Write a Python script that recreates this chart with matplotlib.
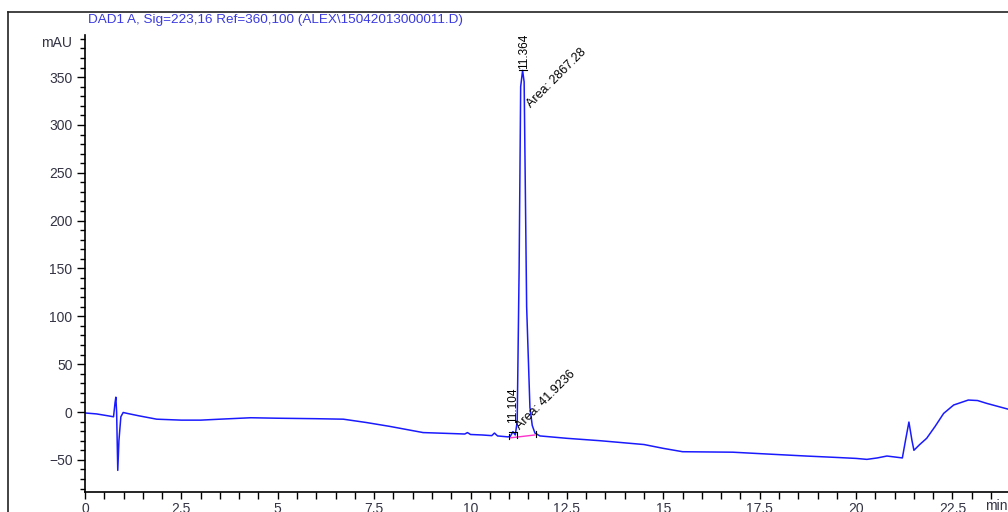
import numpy as np
import matplotlib.pyplot as plt
from matplotlib.lines import Line2D

plt.rcParams['font.family'] = ['Liberation Sans', 'DejaVu Sans']

# chromatogram trace (min, mAU)
t = [0.00, 0.30, 0.60, 0.74, 0.78, 0.80, 0.82, 0.85, 0.88, 0.93, 0.99, 1.10,
     1.40, 1.86, 2.50, 3.00, 3.50, 4.30, 5.00, 6.00, 6.70, 7.30, 7.90, 8.77,
     9.50, 9.85, 9.92, 10.00, 10.30, 10.55, 10.62, 10.70, 10.97, 11.03, 11.10,
     11.16, 11.21, 11.26, 11.30, 11.35, 11.39, 11.455, 11.54, 11.60, 11.67,
     11.80, 12.50, 13.36, 14.50, 15.00, 15.50, 16.80, 17.50, 18.70, 19.50,
     20.00, 20.28, 20.55, 20.80, 21.10, 21.20, 21.28, 21.37, 21.45, 21.50,
     21.65, 21.83, 22.05, 22.27, 22.53, 22.91, 23.15, 23.39, 23.94]
mau = [-1, -2, -4, -5, 10, 15.5, 0, -61, -30, -5, -0.5, -1.5,
       -4, -7.5, -8.5, -8.5, -7.5, -6, -6.5, -7, -7.5, -11, -15, -21.5,
       -22.5, -23, -21.5, -23.5, -24, -24.7, -22, -25, -26, -25.5, -20.5,
       -24, -10, 150, 340, 357, 345, 110, 5, -14, -22,
       -25, -27.5, -30, -34, -38, -41.5, -42, -43.5, -46, -47.5,
       -48.5, -49.5, -48, -46, -47.5, -48, -30, -10.5, -30, -40,
       -34, -27.5, -15, -1.5, 7.3, 12.5, 12, 9, 3]

# integrated peaks
peak_rt = [11.104, 11.364]
peak_h = [-20.5, 357]
peak_area = ['41.9236', '2867.28']
base_t = [11.03, 11.67]
base_y = [-27, -24]
bounds_t = [11.0, 11.21, 11.70]
bounds_y = [-25.5, -24.5, -23]

title = r'DAD1 A, Sig=223,16 Ref=360,100 (ALEX\15042013000011.D)'
lab_col = '#333344'

fig = plt.figure(figsize=(10.08, 5.12), dpi=100)
ax = fig.add_axes([85 / 1008, 1 - 492 / 512, 1 - 85 / 1008, (492 - 35) / 512])

ax.plot(t, mau, color='#1a1aff', lw=1.1)
ax.plot(base_t, base_y, color='#ff33cc', lw=1.0)
for bt, by in zip(bounds_t, bounds_y):
    ax.plot([bt, bt], [by - 3, by + 3], color='black', lw=0.8)
for rt, h in zip(peak_rt, peak_h):
    ax.plot([rt - 0.1, rt + 0.1], [h, h], color='black', lw=0.8)

ax.text(11.39, 358, '11.364', rotation=90, ha='center', va='bottom', fontsize=8.5)
ax.text(11.09, -12, '11.104', rotation=90, ha='center', va='bottom', fontsize=8.5)
ax.text(11.62, 316, 'Area: ' + peak_area[1], rotation=45, rotation_mode='anchor',
        ha='left', va='bottom', fontsize=9)
ax.text(11.33, -21, 'Area: ' + peak_area[0], rotation=45, rotation_mode='anchor',
        ha='left', va='bottom', fontsize=9)

ax.set_xlim(0, 23.94)
ax.set_ylim(-83.6, 394)
ax.set_xticks(np.arange(0, 23, 2.5))
ax.set_xticklabels(['0', '2.5', '5', '7.5', '10', '12.5', '15', '17.5', '20', '22.5'])
ax.set_xticks(np.arange(0, 24, 0.5), minor=True)
ax.set_yticks(np.arange(-50, 351, 50))
ax.set_yticks(np.arange(-80, 391, 10), minor=True)
ax.tick_params(axis='x', which='both', length=5, width=1, labelsize=10,
               labelcolor=lab_col, pad=2)
ax.tick_params(axis='y', which='major', length=6, width=1, labelsize=10,
               labelcolor=lab_col, pad=3)
ax.tick_params(axis='y', which='minor', length=3.5, width=1)
for s in ['top', 'right']:
    ax.spines[s].set_visible(False)
for s in ['left', 'bottom']:
    ax.spines[s].set_linewidth(1.2)

fig.text(72 / 1008, 1 - 43 / 512, 'mAU', ha='right', va='center', fontsize=10, color=lab_col)
fig.text(985 / 1008, 1 - 506 / 512, 'min', ha='left', va='center', fontsize=10, color=lab_col)
fig.text(88 / 1008, 1 - 20 / 512, title, ha='left', va='center', fontsize=9.7, color='#3a3ae0')

# outer frame
fig.add_artist(Line2D([8 / 1008, 8 / 1008], [0, 1 - 12 / 512], color='#222222', lw=1.2))
fig.add_artist(Line2D([8 / 1008, 1], [1 - 12 / 512, 1 - 12 / 512], color='#222222', lw=1.2))

fig.savefig('out.png', dpi=100)
